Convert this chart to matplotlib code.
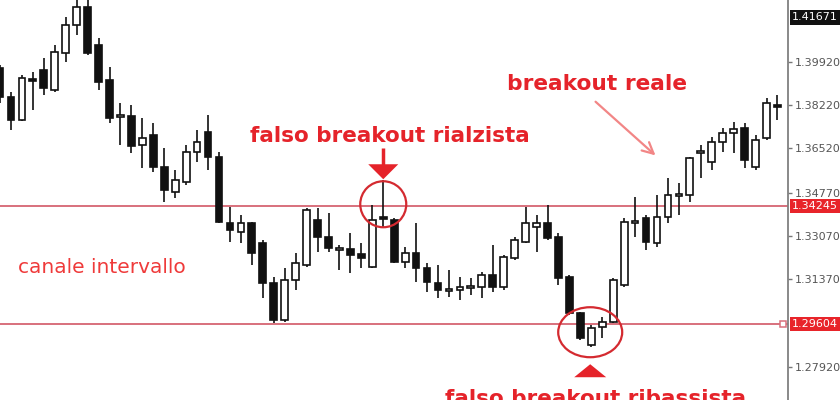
import numpy as np
from matplotlib import pyplot as plt
from matplotlib.patches import Ellipse, Polygon

# candele (open, close, high, low)
opens = [1.3969, 1.3854, 1.3764, 1.3926, 1.3961, 1.3882, 1.4027, 1.4137, 1.4208, 1.4059,
         1.3921, 1.3775, 1.3779, 1.3665, 1.3705, 1.3578, 1.3480, 1.3520, 1.3638, 1.3717,
         1.3618, 1.3358, 1.3323, 1.3358, 1.3280, 1.3122, 1.2977, 1.3134, 1.3193, 1.3370,
         1.3303, 1.3252, 1.3256, 1.3236, 1.3186, 1.3382, 1.3370, 1.3205, 1.3240, 1.3182,
         1.3122, 1.3091, 1.3095, 1.3103, 1.3107, 1.3154, 1.3107, 1.3221, 1.3284, 1.3343,
         1.3358, 1.3303, 1.3146, 1.3004, 1.2879, 1.2950, 1.2969, 1.3115, 1.3358, 1.3378,
         1.3280, 1.3382, 1.3465, 1.3469, 1.3634, 1.3598, 1.3677, 1.3713, 1.3732, 1.3578,
         1.3693, 1.3823]
closes = [1.3854, 1.3764, 1.3930, 1.3917, 1.3890, 1.4031, 1.4137, 1.4208, 1.4027, 1.3913,
          1.3772, 1.3783, 1.3661, 1.3694, 1.3578, 1.3488, 1.3528, 1.3638, 1.3677, 1.3618,
          1.3362, 1.3331, 1.3358, 1.3240, 1.3122, 1.2977, 1.3134, 1.3201, 1.3410, 1.3303,
          1.3261, 1.3261, 1.3233, 1.3221, 1.3370, 1.3374, 1.3205, 1.3240, 1.3182, 1.3126,
          1.3095, 1.3099, 1.3107, 1.3111, 1.3154, 1.3107, 1.3225, 1.3292, 1.3358, 1.3358,
          1.3299, 1.3142, 1.3004, 1.2906, 1.2946, 1.2969, 1.3134, 1.3362, 1.3366, 1.3284,
          1.3382, 1.3469, 1.3473, 1.3614, 1.3642, 1.3677, 1.3713, 1.3728, 1.3606, 1.3685,
          1.3831, 1.3815]
highs = [1.3980, 1.3874, 1.3941, 1.3953, 1.4008, 1.4059, 1.4169, 1.4244, 1.4248, 1.4087,
         1.3972, 1.3831, 1.3823, 1.3772, 1.3752, 1.3654, 1.3567, 1.3665, 1.3725, 1.3783,
         1.3638, 1.3422, 1.3390, 1.3362, 1.3292, 1.3146, 1.3182, 1.3240, 1.3418, 1.3418,
         1.3398, 1.3272, 1.3319, 1.3280, 1.3429, 1.3528, 1.3378, 1.3264, 1.3358, 1.3201,
         1.3193, 1.3174, 1.3146, 1.3142, 1.3166, 1.3272, 1.3233, 1.3303, 1.3422, 1.3390,
         1.3429, 1.3319, 1.3154, 1.3008, 1.2958, 1.2989, 1.3142, 1.3378, 1.3460, 1.3390,
         1.3469, 1.3535, 1.3516, 1.3618, 1.3665, 1.3697, 1.3732, 1.3756, 1.3752, 1.3705,
         1.3850, 1.3862]
lows = [1.3831, 1.3725, 1.3760, 1.3803, 1.3862, 1.3874, 1.3992, 1.4098, 1.4019, 1.3882,
        1.3752, 1.3665, 1.3634, 1.3575, 1.3559, 1.3441, 1.3457, 1.3508, 1.3598, 1.3567,
        1.3358, 1.3284, 1.3280, 1.3193, 1.3064, 1.2965, 1.2969, 1.3095, 1.3186, 1.3244,
        1.3244, 1.3174, 1.3162, 1.3182, 1.3182, 1.3343, 1.3201, 1.3182, 1.3126, 1.3087,
        1.3064, 1.3067, 1.3056, 1.3075, 1.3064, 1.3087, 1.3095, 1.3213, 1.3280, 1.3244,
        1.3292, 1.3115, 1.2997, 1.2898, 1.2871, 1.2906, 1.2965, 1.3107, 1.3303, 1.3252,
        1.3264, 1.3358, 1.3390, 1.3441, 1.3535, 1.3567, 1.3638, 1.3634, 1.3575, 1.3567,
        1.3685, 1.3764]

canale_alto = 1.34245
canale_basso = 1.29604
ultimo_prezzo = 1.41671
y_ticks = [1.27920, 1.31370, 1.33070, 1.34770, 1.36520, 1.38220, 1.39920]

falso_rialzo = 35    # candela del falso breakout rialzista
falso_ribasso = 54   # centro delle candele del falso breakout ribassista
breakout = 60        # candela del breakout reale

rosso = '#e5232a'
rosa = '#d8707c'
nero = '#111111'

# scala: pixel -> unita' dati
px_x = 1 / 10.95
px_y = 0.0003934

x = np.arange(len(opens))
o = np.array(opens)
c = np.array(closes)
up = c >= o
bottom = np.minimum(o, c)
height = np.maximum(np.abs(c - o), 0.0007)

fig = plt.figure(figsize=(8.4, 4), dpi=100)
ax = fig.add_axes([0, 0, 788 / 840, 1])

ax.vlines(x, lows, highs, color=nero, lw=1.2, zorder=2)
ax.bar(x[up], height[up], width=0.62, bottom=bottom[up], facecolor='white',
       edgecolor=nero, linewidth=1.2, zorder=3)
ax.bar(x[~up], height[~up], width=0.62, bottom=bottom[~up], facecolor=nero,
       edgecolor=nero, linewidth=1.2, zorder=3)

# canale
ax.axhline(canale_alto, color=rosa, lw=1.4, zorder=1)
ax.axhline(canale_basso, color=rosa, lw=1.4, zorder=1)
ax.plot([71.5], [canale_basso], 's', ms=4.5, mfc='white', mec=rosa, mew=1.1,
        clip_on=False, zorder=4)

# falso breakout rialzista: cerchio + freccia
cy = canale_alto + 2 * px_y
ax.add_patch(Ellipse((falso_rialzo, cy), 46 * px_x, 46 * px_y, fill=False,
                     ec='#d42a30', lw=1.6, zorder=5))
tip = cy + 25 * px_y
ax.add_patch(Polygon([[falso_rialzo, tip],
                      [falso_rialzo - 15 * px_x, tip + 15 * px_y],
                      [falso_rialzo + 15 * px_x, tip + 15 * px_y]],
                     closed=True, fc=rosso, ec='none', zorder=5))
ax.plot([falso_rialzo, falso_rialzo], [tip + 14 * px_y, tip + 31 * px_y],
        color=rosso, lw=2.5, solid_capstyle='butt', zorder=5)
ax.text(falso_rialzo + 0.6, 1.3677, 'falso breakout rialzista', color=rosso,
        fontsize=15.5, fontweight='bold', ha='center', va='baseline')

# falso breakout ribassista: ellisse + triangolo
ey = canale_basso - 8 * px_y
ax.add_patch(Ellipse((falso_ribasso - 0.1, ey), 64 * px_x, 50 * px_y, fill=False,
                     ec='#d42a30', lw=1.6, zorder=5))
ttop = ey - 32 * px_y
ax.add_patch(Polygon([[falso_ribasso - 0.1, ttop],
                      [falso_ribasso - 0.1 - 16 * px_x, ttop - 13 * px_y],
                      [falso_ribasso - 0.1 + 16 * px_x, ttop - 13 * px_y]],
                     closed=True, fc=rosso, ec='none', zorder=5, clip_on=False))
ax.text(falso_ribasso + 0.4, 1.2642, 'falso breakout ribassista', color=rosso,
        fontsize=15.5, fontweight='bold', ha='center', va='baseline', clip_on=False)

# breakout reale
ax.text(54.5, 1.3882, 'breakout reale', color=rosso, fontsize=15.7,
        fontweight='bold', ha='center', va='baseline')
ax.annotate('', xy=(breakout + 0.05, canale_alto + 49 * px_y),
            xytext=(54.2, 1.3843),
            arrowprops=dict(arrowstyle='->,head_length=0.8,head_width=0.4',
                            color='#f28686', lw=1.6))

ax.text(1.65, 1.3162, 'canale intervallo', color='#ef3a3a', fontsize=14.5,
        ha='left', va='baseline')

# assi
ax.set_xlim(0, 788 / 10.95)
ax.set_ylim(1.42359 - 400 * px_y, 1.42359)
for s in ['left', 'top', 'bottom']:
    ax.spines[s].set_visible(False)
ax.spines['right'].set_color('#808080')
ax.spines['right'].set_linewidth(1.3)
ax.set_xticks([])
ax.yaxis.tick_right()
ax.set_yticks(y_ticks)
ax.set_yticklabels(['%.5f' % v for v in y_ticks])
ax.tick_params(axis='y', length=3, width=1, color='#777777', labelsize=8,
               labelcolor='#555555', pad=2)

for val, col in [(ultimo_prezzo, '#111111'), (canale_alto, '#e8242a'),
                 (canale_basso, '#e8242a')]:
    ax.annotate('%.5f' % val, xy=(1, val), xycoords=('axes fraction', 'data'),
                xytext=(3, 0), textcoords='offset points', ha='left', va='center',
                fontsize=8, color='white', annotation_clip=False,
                bbox=dict(boxstyle='square,pad=0.2', fc=col, ec='none'))

fig.savefig('out.png', dpi=100)
